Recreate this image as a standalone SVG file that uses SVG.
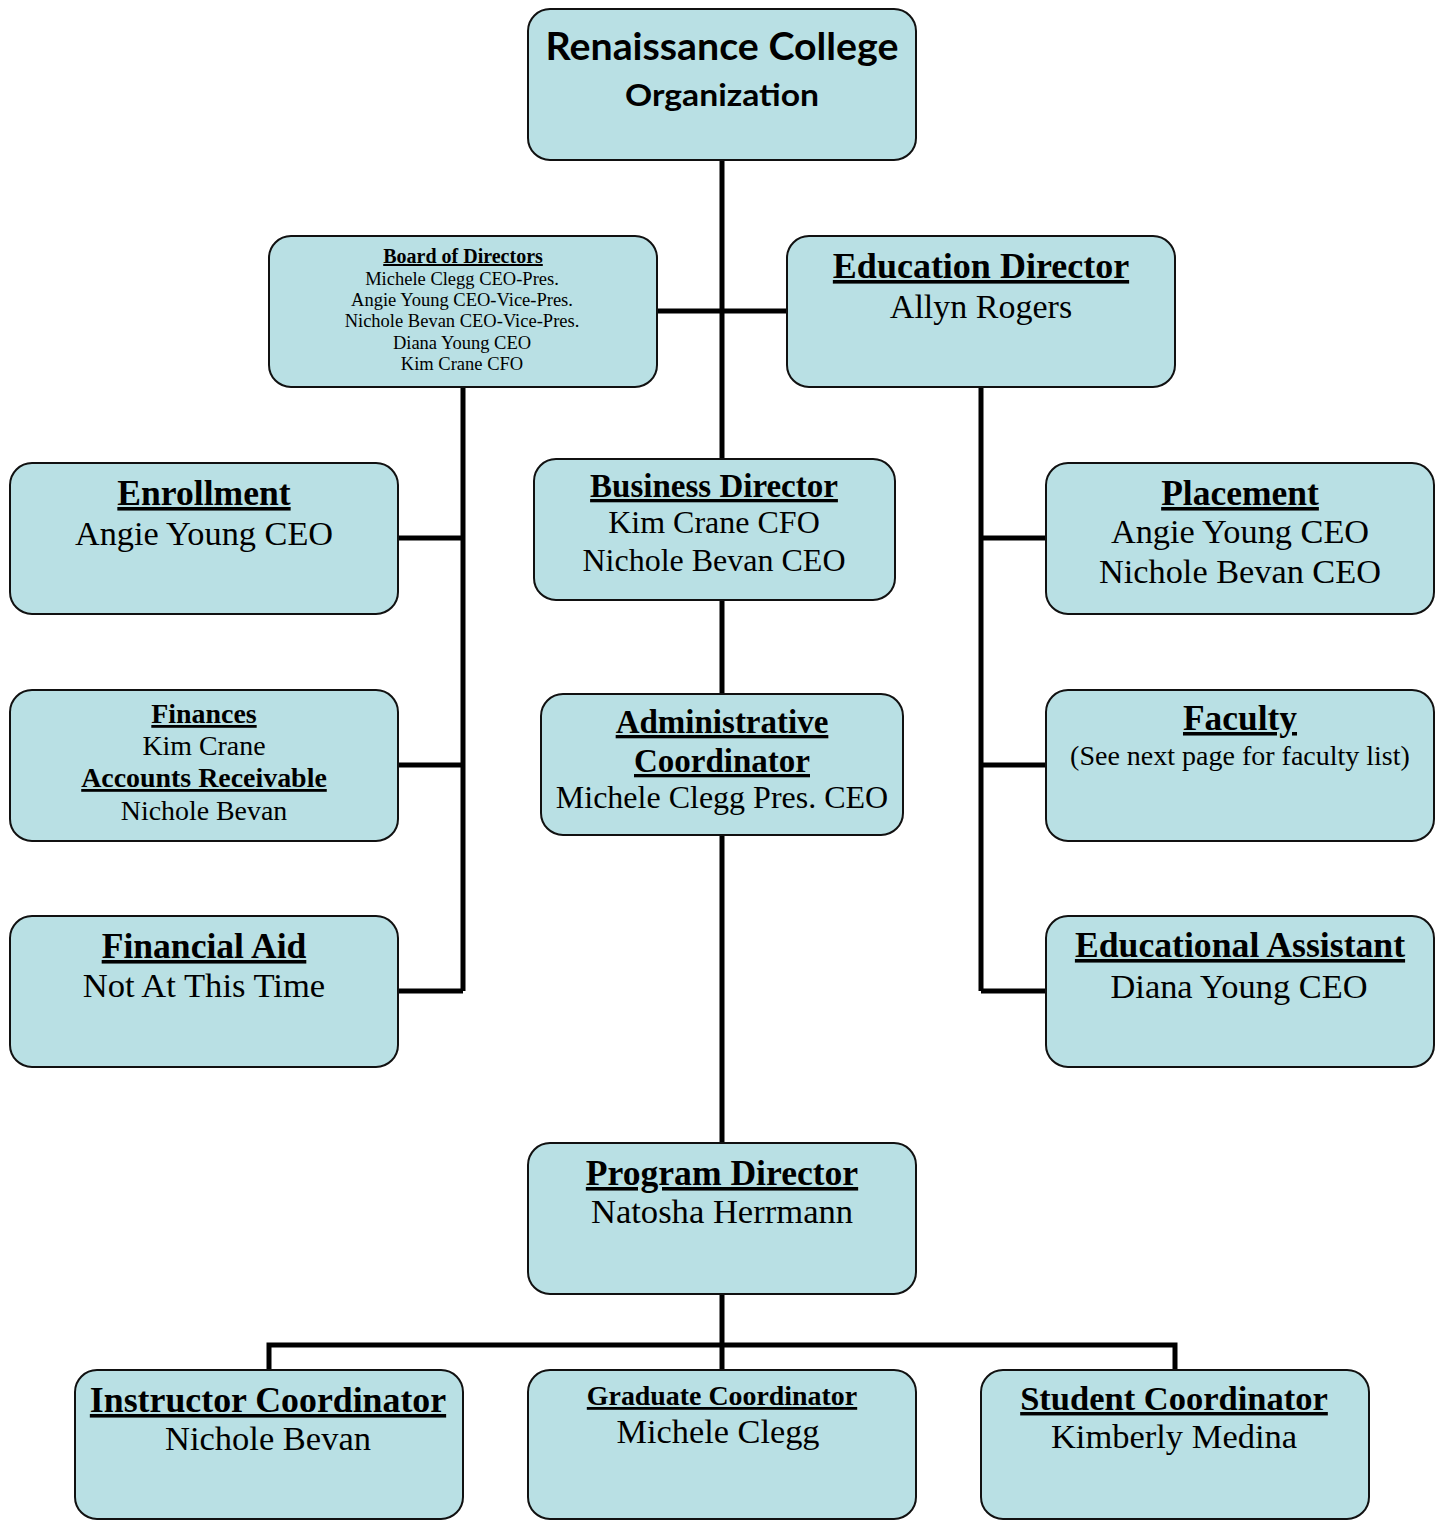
<svg xmlns="http://www.w3.org/2000/svg" width="1442" height="1521" viewBox="0 0 1442 1521">
<style>
.box{fill:#B9E0E4;stroke:#111;stroke-width:2}
.con{fill:none;stroke:#000;stroke-width:5}
.t{font-family:"Liberation Serif","Times New Roman",serif;fill:#000;text-anchor:middle}
.b{font-weight:bold;text-decoration:underline;text-decoration-thickness:0.08em}
.s{font-family:Lato,"Open Sans",sans-serif;font-weight:bold;fill:#000;text-anchor:middle}
</style>
<rect width="1442" height="1521" fill="#fff"/>
<g id="connectors">
<path class="con" d="M722 160V459M722 600V694M722 835V1143M722 1294V1370"/>
<path class="con" d="M657 311H787"/>
<path class="con" d="M463 387V991M398 538H463M398 765H463M398 991H463"/>
<path class="con" d="M981 387V991M981 538H1046M981 765H1046M981 991H1046"/>
<path class="con" d="M269 1370V1345H1175V1370"/>
</g>
<g id="title">
<rect class="box" x="528" y="9" width="388" height="151" rx="22"/>
<text class="s" x="722" y="60" font-size="38" textLength="353" lengthAdjust="spacingAndGlyphs">Renaissance College</text>
<text class="s" x="722" y="106" font-size="30" textLength="194" lengthAdjust="spacingAndGlyphs">Organization</text>
</g>
<g id="board">
<rect class="box" x="269" y="236" width="388" height="151" rx="22"/>
<text class="t b" x="463" y="263" font-size="20">Board of Directors</text>
<text class="t" x="462" y="285" font-size="18.5">Michele Clegg CEO-Pres.</text>
<text class="t" x="462" y="306" font-size="18.5">Angie Young CEO-Vice-Pres.</text>
<text class="t" x="462" y="327" font-size="18.5">Nichole Bevan CEO-Vice-Pres.</text>
<text class="t" x="462" y="349" font-size="18.5">Diana Young CEO</text>
<text class="t" x="462" y="370" font-size="18.5">Kim Crane CFO</text>
</g>
<g id="education">
<rect class="box" x="787" y="236" width="388" height="151" rx="22"/>
<text class="t b" x="981" y="278" font-size="36">Education Director</text>
<text class="t" x="981" y="318" font-size="34">Allyn Rogers</text>
</g>
<g id="enrollment">
<rect class="box" x="10" y="463" width="388" height="151" rx="22"/>
<text class="t b" x="204" y="505" font-size="35.6">Enrollment</text>
<text class="t" x="204" y="545" font-size="34.3">Angie Young CEO</text>
</g>
<g id="business">
<rect class="box" x="534" y="459" width="361" height="141" rx="22"/>
<text class="t b" x="714" y="497" font-size="33">Business Director</text>
<text class="t" x="714" y="533" font-size="32">Kim Crane CFO</text>
<text class="t" x="714" y="571" font-size="32">Nichole Bevan CEO</text>
</g>
<g id="placement">
<rect class="box" x="1046" y="463" width="388" height="151" rx="22"/>
<text class="t b" x="1240" y="505" font-size="35.5">Placement</text>
<text class="t" x="1240" y="543" font-size="34.3">Angie Young CEO</text>
<text class="t" x="1240" y="583" font-size="34.3">Nichole Bevan CEO</text>
</g>
<g id="finances">
<rect class="box" x="10" y="690" width="388" height="151" rx="22"/>
<text class="t b" x="204" y="723" font-size="27.9">Finances</text>
<text class="t" x="204" y="755" font-size="27.9">Kim Crane</text>
<text class="t b" x="204" y="787" font-size="27.9">Accounts Receivable</text>
<text class="t" x="204" y="820" font-size="27.9">Nichole Bevan</text>
</g>
<g id="admin">
<rect class="box" x="541" y="694" width="362" height="141" rx="22"/>
<text class="t b" x="722" y="733" font-size="33">Administrative</text>
<text class="t b" x="722" y="772" font-size="33">Coordinator</text>
<text class="t" x="722" y="808" font-size="32">Michele Clegg Pres. CEO</text>
</g>
<g id="faculty">
<rect class="box" x="1046" y="690" width="388" height="151" rx="22"/>
<text class="t b" x="1240" y="730" font-size="35.4">Faculty</text>
<text class="t" x="1240" y="765" font-size="28">(See next page for faculty list)</text>
</g>
<g id="financial-aid">
<rect class="box" x="10" y="916" width="388" height="151" rx="22"/>
<text class="t b" x="204" y="958" font-size="35.6">Financial Aid</text>
<text class="t" x="204" y="997" font-size="34.6">Not At This Time</text>
</g>
<g id="educational-assistant">
<rect class="box" x="1046" y="916" width="388" height="151" rx="22"/>
<text class="t b" x="1240" y="957" font-size="35.7">Educational Assistant</text>
<text class="t" x="1239" y="998" font-size="34.4">Diana Young CEO</text>
</g>
<g id="program">
<rect class="box" x="528" y="1143" width="388" height="151" rx="22"/>
<text class="t b" x="722" y="1185" font-size="35.6">Program Director</text>
<text class="t" x="722" y="1223" font-size="34.6">Natosha Herrmann</text>
</g>
<g id="instructor">
<rect class="box" x="75" y="1370" width="388" height="149" rx="22"/>
<text class="t b" x="268" y="1412" font-size="35.8">Instructor Coordinator</text>
<text class="t" x="268" y="1450" font-size="34.5">Nichole Bevan</text>
</g>
<g id="graduate">
<rect class="box" x="528" y="1370" width="388" height="149" rx="22"/>
<text class="t b" x="722" y="1405" font-size="27.9">Graduate Coordinator</text>
<text class="t" x="718" y="1443" font-size="34.3">Michele Clegg</text>
</g>
<g id="student">
<rect class="box" x="981" y="1370" width="388" height="149" rx="22"/>
<text class="t b" x="1174" y="1410" font-size="34.5">Student Coordinator</text>
<text class="t" x="1174" y="1448" font-size="34.5">Kimberly Medina</text>
</g>
</svg>
